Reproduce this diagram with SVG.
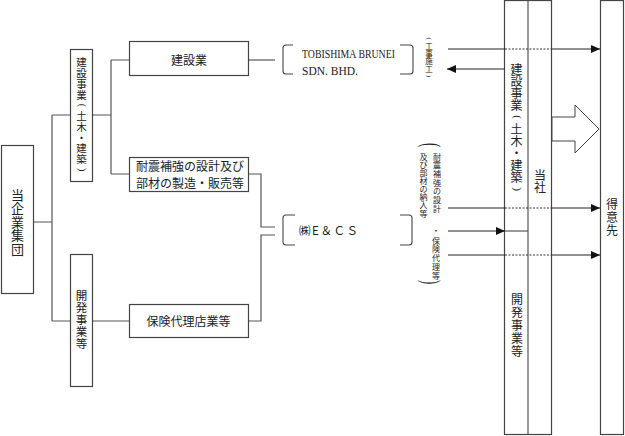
<svg xmlns="http://www.w3.org/2000/svg" width="625" height="436" viewBox="0 0 625 436">
<style>
.box{fill:#fff;stroke:#444;stroke-width:1.2}
.col{fill:none;stroke:#444;stroke-width:1.2}
.ln{fill:none;stroke:#555;stroke-width:1.2}
.ar{fill:none;stroke:#222;stroke-width:1}
.dot{fill:none;stroke:#333;stroke-width:1;stroke-dasharray:2 1.5}
.br{fill:none;stroke:#444;stroke-width:1.1}
.t{font-family:"Noto Sans CJK JP","Noto Sans",sans-serif;fill:#222}
.c{font-family:"Noto Sans CJK JP","Noto Sans",sans-serif;fill:#222;text-anchor:middle}
.s{font-family:"Liberation Serif",serif;fill:#222}
.p{font-family:"Liberation Serif",serif;fill:#222;text-anchor:middle}
</style>
<defs>
<marker id="ah" markerWidth="9" markerHeight="8" refX="9" refY="4" orient="auto" markerUnits="userSpaceOnUse">
<path d="M0,0 L9,4 L0,8 Z" fill="#111"/>
</marker>
</defs>

<g id="tousha">
<rect class="col" x="504.5" y="0.5" width="47" height="434"/>
<line class="ln" x1="528" y1="0.5" x2="528" y2="434.5"/>
<text class="c" font-size="12" x="516.5 516.5 516.5 516.5" y="73.6 85.6 97.6 109.6">建設事業</text>
<text class="p" font-size="11" x="0" y="2.8" transform="translate(516.5,117) rotate(90)">(</text>
<text class="c" font-size="12" x="516.5 516.5 516.5 516.5 516.5" y="133.6 145.6 157.6 169.6 181.6">土木・建築</text>
<text class="p" font-size="11" x="0" y="2.8" transform="translate(516.5,189) rotate(90)">)</text>
<text class="c" font-size="12" x="517 517 517 517 517" y="304.1 317.1 330.1 343.1 356.1">開発事業等</text>
<text class="c" font-size="12" x="540 540" y="180 192">当社</text>
</g>

<g id="tokuisaki">
<rect class="col" x="600.5" y="0.5" width="23" height="434"/>
<text class="c" font-size="12" x="612 612 612" y="209 222 235">得意先</text>
</g>

<g id="connectors">
<path class="ln" d="M34,222 H52 M52,115 V321 M52,115 H70 M52,321 H70"/>
<path class="ln" d="M93,115 H111 M111,60 V174 M111,60 H129 M111,174 H129"/>
<path class="ln" d="M249,60 H275"/>
<path class="ln" d="M249,174 H261 V227 H275 M275,235 H261 V321 H249"/>
<path class="ln" d="M93,321 H129"/>
<line class="ar" x1="448" y1="49" x2="505" y2="49"/>
<line class="dot" x1="505" y1="49" x2="552" y2="49"/>
<line class="ar" x1="552" y1="49" x2="600" y2="49" marker-end="url(#ah)"/>
<line class="ar" x1="505" y1="69" x2="447" y2="69" marker-end="url(#ah)"/>
<line class="ar" x1="448" y1="208" x2="505" y2="208"/>
<line class="dot" x1="505" y1="208" x2="552" y2="208"/>
<line class="ar" x1="552" y1="208" x2="600" y2="208" marker-end="url(#ah)"/>
<line class="ar" x1="448" y1="231" x2="505" y2="231" marker-end="url(#ah)"/>
<line class="ln" x1="505" y1="231" x2="528" y2="231"/>
<line class="ar" x1="448" y1="255" x2="505" y2="255"/>
<line class="dot" x1="505" y1="255" x2="552" y2="255"/>
<line class="ar" x1="552" y1="255" x2="600" y2="255" marker-end="url(#ah)"/>
</g>

<g id="group">
<rect class="box" x="1.5" y="145.5" width="32" height="148"/>
<text class="c" font-size="13" x="17.5 17.5 17.5 17.5 17.5" y="200 213.4 226.8 240.2 253.6">当企業集団</text>
</g>

<g id="kensetsu-jigyo">
<rect class="box" x="70.5" y="49.5" width="22" height="132"/>
<text class="c" font-size="10.5" x="81.5 81.5 81.5 81.5" y="66.4 77.1 87.9 98.6">建設事業</text>
<text class="p" font-size="10" x="0" y="2.6" transform="translate(81.5,105.3) rotate(90)">(</text>
<text class="c" font-size="10.5" x="81.5 81.5 81.5 81.5 81.5" y="120.1 130.8 141.5 152.3 163">土木・建築</text>
<text class="p" font-size="10" x="0" y="2.6" transform="translate(81.5,169.7) rotate(90)">)</text>
</g>

<g id="kaihatsu-jigyo">
<rect class="box" x="70.5" y="254.5" width="22" height="132"/>
<text class="c" font-size="11.5" x="81.5 81.5 81.5 81.5 81.5" y="300.4 312.4 324.4 336.4 348.4">開発事業等</text>
</g>

<g id="kensetsugyo">
<rect class="box" x="129.5" y="41.5" width="119" height="34"/>
<text class="c" x="189" y="64.5" font-size="12">建設業</text>
</g>

<g id="taishin">
<rect class="box" x="129.5" y="157.5" width="119" height="34"/>
<text class="t" x="136" y="170.5" font-size="12" textLength="108" lengthAdjust="spacing">耐震補強の設計及び</text>
<text class="t" x="136" y="187.5" font-size="12" textLength="108" lengthAdjust="spacing">部材の製造・販売等</text>
</g>

<g id="hoken">
<rect class="box" x="129.5" y="304.5" width="119" height="33"/>
<text class="c" x="188.5" y="326" font-size="12">保険代理店業等</text>
</g>

<g id="tobishima">
<path class="br" d="M293,45 H286 Q283,45 283,48 V71 Q283,74 286,74 H293"/>
<path class="br" d="M400,45 H410 Q413,45 413,48 V71 Q413,74 410,74 H400"/>
<text class="s" x="302" y="58" font-size="12" textLength="93" lengthAdjust="spacingAndGlyphs">TOBISHIMA BRUNEI</text>
<text class="s" x="302" y="75" font-size="12" textLength="56" lengthAdjust="spacingAndGlyphs">SDN. BHD.</text>
</g>

<g id="ecs">
<path class="br" d="M295,215 H286 Q283,215 283,218 V242 Q283,245 286,245 H295"/>
<path class="br" d="M400,215 H409 Q412,215 412,218 V242 Q412,245 409,245 H400"/>
<text class="t" x="299" y="235" font-size="11.5" textLength="59" lengthAdjust="spacing">㈱E＆ＣＳ</text>
</g>

<g id="label-koji">
<text class="p" font-size="7" x="0" y="1.8" transform="translate(429,38.7) rotate(90)">(</text>
<text class="c" font-size="7.5" x="429 429 429 429" y="49.1 56.6 64.1 71.6">工事施工</text>
<text class="p" font-size="7" x="0" y="1.8" transform="translate(429,76.2) rotate(90)">)</text>
</g>

<g id="label-taishin">
<text class="p" font-size="9" x="0" y="2.3" transform="translate(430,145) rotate(90) scale(1.4,2.9)">(</text>
<text class="c" font-size="8" x="437 437 437 437 437 437 437" y="159.5 168.2 176.8 185.5 194.2 202.8 211.5">耐震補強の設計</text>
<text class="c" font-size="8" x="423.5 423.5 423.5 423.5 423.5 423.5 423.5 423.5" y="159.5 167.6 175.8 183.9 192.1 200.2 208.3 216.5">及び部材の納入等</text>
<text class="c" font-size="8" x="436 436 436 436 436 436" y="234 243.5 252.3 261 269.8 278.5">・保険代理等</text>
<text class="p" font-size="9" x="0" y="2.3" transform="translate(430,282) rotate(90) scale(1.4,2.9)">)</text>
</g>

<g id="big-arrow">
<polygon points="552,117 575,117 575,105 599,129 575,153 575,141 552,141" fill="#fff" stroke="#444" stroke-width="1"/>
</g>
</svg>
